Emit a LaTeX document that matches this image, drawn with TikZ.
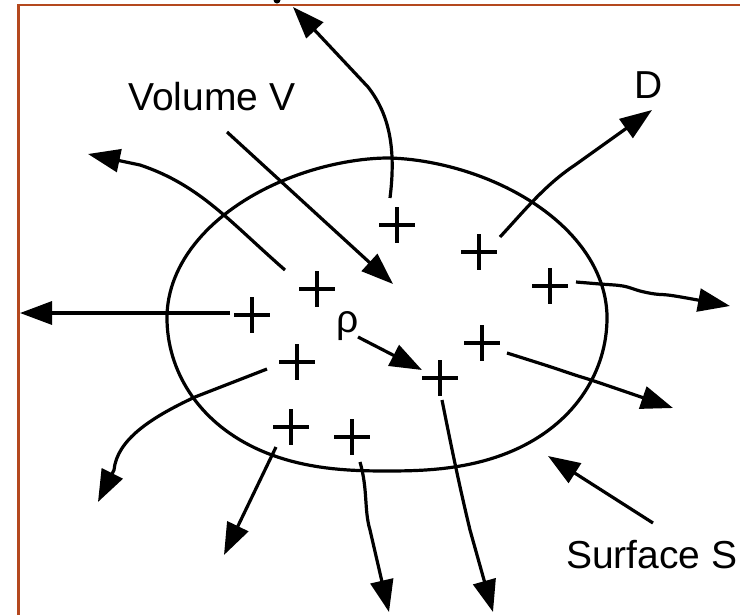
\documentclass[tikz,border=0pt]{standalone}
\usepackage{fontspec}
\setmainfont{Liberation Sans}
\usetikzlibrary{arrows.meta,calc}
\definecolor{framecol}{RGB}{180,72,30}
\begin{document}
\begin{tikzpicture}[x=1pt,y=-1pt,
  plus/.style={minimum size=36pt, inner sep=0pt,
    path picture={\draw[line width=4.2pt]
      (path picture bounding box.north) -- (path picture bounding box.south)
      (path picture bounding box.west) -- (path picture bounding box.east);}},
  flux/.style={line width=3.2pt, -{Triangle[length=32pt,width=23pt]}},
  lbl/.style={font=\fontsize{39}{39}\selectfont, inner sep=0pt},
  surf/.style={line width=3.2pt, line join=round}
]
\useasboundingbox (0,0) rectangle (740,614);
\fill[white] (0,0) rectangle (740,614);
% frame
\draw[framecol, line width=2.2pt] (742,5) -- (18.5,5) -- (18.5,616);
\fill (277,0) circle (3.5);

% surface S (egg-like closed curve)
\draw[surf] plot[domain=0:180, samples=100]
    ({387+220*cos(\x)*abs(cos(\x))^(0.12)}, {318-160*sin(\x)})
  -- plot[domain=180:360, samples=100]
    ({387+220*cos(\x)*abs(cos(\x))^(-0.2)}, {318-153*sin(\x)}) -- cycle;

% charges
\node[plus] (p1) at (397,225) {};
\node[plus] (p2) at (479,252) {};
\node[plus] (p3) at (317,289) {};
\node[plus] (p4) at (252,315) {};
\node[plus] (p5) at (297,362) {};
\node[plus] (p6) at (440,378) {};
\node[plus] (p7) at (482,343) {};
\node[plus] (p8) at (550,286) {};
\node[plus] (p9) at (291,427) {};
\node[plus] (p10) at (352,437) {};

% labels
\node[lbl, anchor=base west] (vol) at (128,110) {Volume V};
\node[lbl, anchor=base] (dlab) at (649,98) {D};
\node[lbl, anchor=base west] (surflab) at (566,568) {Surface S};
\node[lbl, anchor=base] (rho) at (348,332) {ρ};

% named ends
\coordinate (t1) at (293,7);
\coordinate (t2) at (393,284);
\coordinate (t3) at (88,154);
\coordinate (t4) at (20,313);
\coordinate (t5) at (98,502);
\coordinate (t6) at (224,555);
\coordinate (t7) at (389,612);
\coordinate (t8) at (493,612);
\coordinate (t9) at (673,408);
\coordinate (t10) at (730,306);
\coordinate (t11) at (652,110);
\coordinate (t12) at (548,456);
\coordinate (s2) at (227,132);
\coordinate (s12) at (653,523);
\coordinate (sr) at (358,337);
\coordinate (tr) at (422,370);

% flux arrows
\draw[flux] ($(p1)+(-7,-27)$) .. controls (396,150) and (390,115) .. (368,87) -- (t1);
\draw[flux] (s2) -- (t2);
\draw[flux] ($(p3)+(-32,-19)$) .. controls (230,222) and (200,185) .. (140,165) -- (t3);
\draw[flux] ($(p4)+(-22,-2)$) -- (t4);
\draw[flux] ($(p5)+(-30,7)$) -- (195,397) .. controls (150,418) and (117,440) .. (114,470) -- (t5);
\draw[flux] ($(p9)+(-15,20)$) -- (t6);
\draw[flux] ($(p10)+(8,25)$) .. controls (368,490) and (364,510) .. (370,530) -- (t7);
\draw[flux] ($(p6)+(2,22)$) .. controls (450,440) and (458,480) .. (470,530) -- (t8);
\coordinate (s9) at ($(p7)+(25,10)$);
\draw[flux] plot[smooth, tension=0.6] coordinates {(s9) (548,366) (575,375) (600,383) (t9)};
\coordinate (s10) at ($(p8)+(26,-4)$);
\draw[flux] plot[smooth, tension=0.6] coordinates {(s10) (600,284) (623,286) (640,291) (655,294) (675,296) (t10)};
\draw[flux] ($(p2)+(21,-15)$) .. controls (525,210) and (545,185) .. (575,165) -- (t11);
\draw[flux] (s12) -- (t12);
\draw[flux] (sr) -- (tr);
\end{tikzpicture}
\end{document}
